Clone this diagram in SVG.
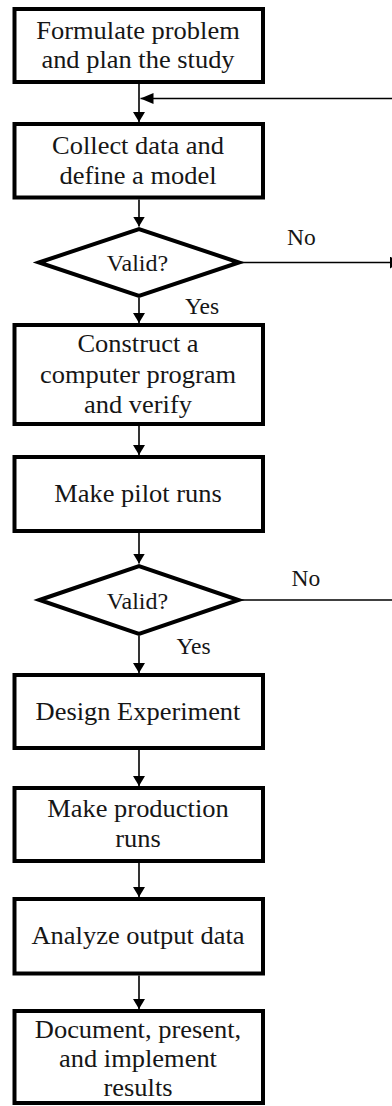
<svg xmlns="http://www.w3.org/2000/svg" width="392" height="1106" viewBox="0 0 392 1106">
  <style>
    .box { fill: #fff; stroke: #000; stroke-width: 4; }
    .dec { fill: #fff; stroke: #000; stroke-width: 4; stroke-linejoin: miter; }
    .flow { fill: none; stroke: #000; stroke-width: 1.6; }
    text { font-family: 'Liberation Serif', serif; fill: #161616; }
    .lbl text { font-size: 24.5px; text-anchor: middle; }
    .dtxt { font-size: 24px; text-anchor: middle; }
    .branch { font-size: 23.5px; }
  </style>
  <defs>
    <marker id="arrow" viewBox="0 0 10 12" refX="10" refY="6" markerWidth="10" markerHeight="12" markerUnits="userSpaceOnUse" orient="auto">
      <path d="M0,0 L10,6 L0,12 Z" fill="#000"/>
    </marker>
    <marker id="arrowSide" viewBox="0 0 13 11" refX="13" refY="5.5" markerWidth="13" markerHeight="11" markerUnits="userSpaceOnUse" orient="auto">
      <path d="M0,0 L13,5.5 L0,11 Z" fill="#000"/>
    </marker>
  </defs>

  <rect width="392" height="1106" fill="#fff"/>

  <!-- connectors -->
  <g id="connectors">
    <line class="flow" x1="139" y1="84" x2="139" y2="122" marker-end="url(#arrow)"/>
    <line class="flow" x1="392" y1="98.5" x2="140.5" y2="98.5" marker-end="url(#arrowSide)"/>
    <line class="flow" x1="139" y1="199.5" x2="139" y2="226.5" marker-end="url(#arrow)"/>
    <line class="flow" x1="239" y1="262.5" x2="400" y2="262.5" marker-end="url(#arrow)"/>
    <line class="flow" x1="139" y1="298" x2="139" y2="323" marker-end="url(#arrow)"/>
    <line class="flow" x1="139" y1="426" x2="139" y2="455" marker-end="url(#arrow)"/>
    <line class="flow" x1="139" y1="533" x2="139" y2="563.5" marker-end="url(#arrow)"/>
    <line class="flow" x1="239" y1="600" x2="392" y2="600"/>
    <line class="flow" x1="139" y1="636" x2="139" y2="673" marker-end="url(#arrow)"/>
    <line class="flow" x1="139" y1="750" x2="139" y2="786" marker-end="url(#arrow)"/>
    <line class="flow" x1="139" y1="863" x2="139" y2="897" marker-end="url(#arrow)"/>
    <line class="flow" x1="139" y1="975.5" x2="139" y2="1009" marker-end="url(#arrow)"/>
  </g>

  <!-- process steps; labels are widened slightly around the box centre -->
  <g id="formulate">
    <rect class="box" x="14.5" y="9" width="248.5" height="73"/>
    <g class="lbl" transform="translate(138 0) scale(1.08 1)">
      <text x="0" y="39">Formulate problem</text>
      <text x="0" y="68">and plan the study</text>
    </g>
  </g>

  <g id="collect">
    <rect class="box" x="14.5" y="124" width="248.5" height="73.5"/>
    <g class="lbl" transform="translate(138 0) scale(1.08 1)">
      <text x="0" y="154">Collect data and</text>
      <text x="0" y="184">define a model</text>
    </g>
  </g>

  <g id="valid-model">
    <polygon class="dec" points="39,262.5 139,229 239,262.5 139,296"/>
    <text class="dtxt" x="137.5" y="271">Valid?</text>
    <text class="branch" x="287" y="244.5">No</text>
    <text class="branch" x="185" y="313.5">Yes</text>
  </g>

  <g id="construct">
    <rect class="box" x="14.5" y="325" width="248.5" height="99"/>
    <g class="lbl" transform="translate(138 0) scale(1.08 1)">
      <text x="0" y="352">Construct a</text>
      <text x="0" y="383">computer program</text>
      <text x="0" y="413.5">and verify</text>
    </g>
  </g>

  <g id="pilot">
    <rect class="box" x="14.5" y="457" width="248.5" height="74"/>
    <g class="lbl" transform="translate(138 0) scale(1.08 1)">
      <text x="0" y="502.5">Make pilot runs</text>
    </g>
  </g>

  <g id="valid-pilot">
    <polygon class="dec" points="39.5,600 139,566 238.5,600 139,634"/>
    <text class="dtxt" x="137.5" y="608.5">Valid?</text>
    <text class="branch" x="291.5" y="586">No</text>
    <text class="branch" x="176.5" y="654">Yes</text>
  </g>

  <g id="design">
    <rect class="box" x="14.5" y="675" width="248.5" height="73"/>
    <g class="lbl" transform="translate(138 0) scale(1.08 1)">
      <text x="0" y="720">Design Experiment</text>
    </g>
  </g>

  <g id="production">
    <rect class="box" x="14.5" y="788" width="248.5" height="73"/>
    <g class="lbl" transform="translate(138 0) scale(1.08 1)">
      <text x="0" y="817.5">Make production</text>
      <text x="0" y="847">runs</text>
    </g>
  </g>

  <g id="analyze">
    <rect class="box" x="14.5" y="899" width="248.5" height="74.5"/>
    <g class="lbl" transform="translate(138 0) scale(1.08 1)">
      <text x="0" y="944.5">Analyze output data</text>
    </g>
  </g>

  <g id="document">
    <rect class="box" x="14.5" y="1011" width="248.5" height="92"/>
    <g class="lbl" transform="translate(138 0) scale(1.08 1)">
      <text x="0" y="1038">Document, present,</text>
      <text x="0" y="1067">and implement</text>
      <text x="0" y="1096">results</text>
    </g>
  </g>
</svg>
